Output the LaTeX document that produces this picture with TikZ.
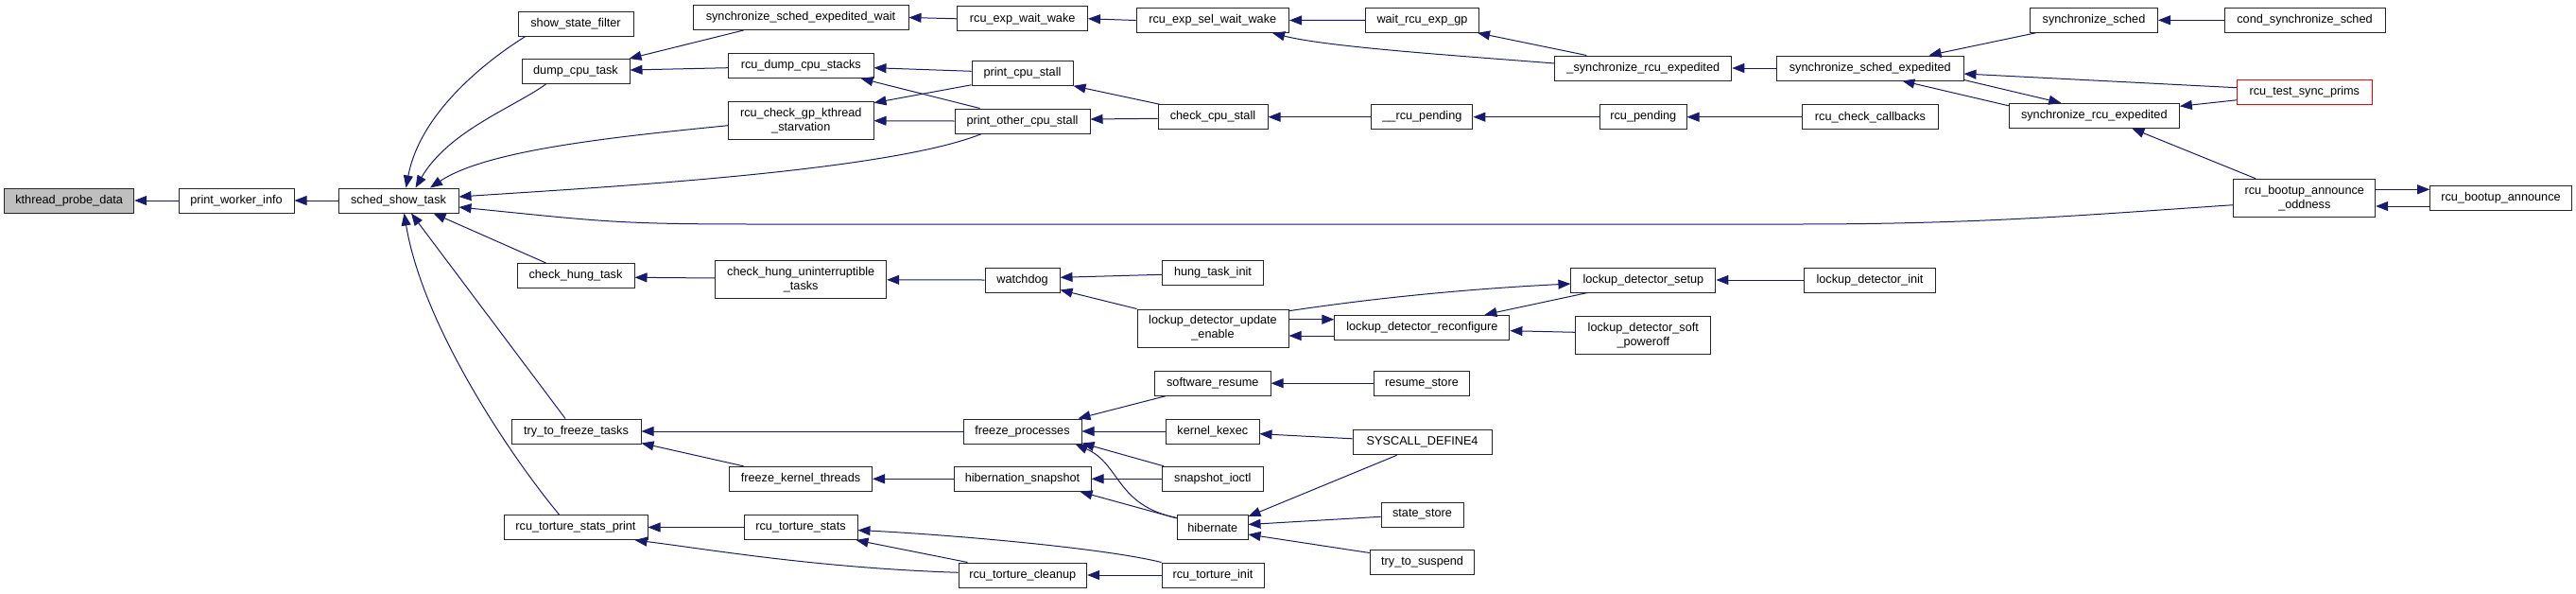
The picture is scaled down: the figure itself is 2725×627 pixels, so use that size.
\documentclass[tikz,border=0pt]{standalone}
\usepackage{fontspec}
\setmainfont{Liberation Sans}
\usetikzlibrary{arrows.meta,calc}
\definecolor{mb}{HTML}{191970}
\definecolor{rootfill}{HTML}{BFBFBF}
\newcommand\dxfont{\fontsize{12.7pt}{15pt}\selectfont}
\tikzset{
 box/.style={draw=black!85, line width=1pt, fill=white, inner sep=0pt, minimum height=26pt, align=center, font=\dxfont},
 tall/.style={minimum height=40pt},
 root/.style={fill=rootfill},
 ed/.style={draw=mb, line width=1pt, arrows={Triangle[length=13pt,width=10pt,fill=mb]-}},
}
\begin{document}
\begin{tikzpicture}[x=1pt,y=-1pt]
\useasboundingbox (0,0) rectangle (2725,627);
% nodes
\node[box,root,minimum width=137pt] (kpd) at (73.2,212) {kthread\_probe\_data};
\node[box,minimum width=122pt] (pwi) at (250,212) {print\_worker\_info};
\node[box,minimum width=127pt] (sst) at (421.5,212) {sched\_show\_task};
\node[box,minimum width=122pt] (ssf) at (609,25.2) {show\_state\_filter};
\node[box,minimum width=114pt] (dct) at (609,75.5) {dump\_cpu\_task};
\node[box,minimum width=124pt] (cht) at (609,291.5) {check\_hung\_task};
\node[box,minimum width=137pt] (ttft) at (609.5,456) {try\_to\_freeze\_tasks};
\node[box,minimum width=152pt] (rtsp) at (609,557.5) {rcu\_torture\_stats\_print};
\node[box,minimum width=228pt] (ssew) at (847,18.5) {synchronize\_sched\_expedited\_wait};
\node[box,minimum width=153.4pt] (rdcs) at (847.3,69.4) {rcu\_dump\_cpu\_stacks};
\node[box,tall,minimum width=153.4pt] (rcgks) at (847.3,127.7) {rcu\_check\_gp\_kthread\\\_starvation};
\node[box,tall,minimum width=181pt] (chut) at (847.2,295.8) {check\_hung\_uninterruptible\\\_tasks};
\node[box,minimum width=151pt] (fkt) at (847,506.3) {freeze\_kernel\_threads};
\node[box,minimum width=120pt] (rts) at (847,557.5) {rcu\_torture\_stats};
\node[box,minimum width=137.5pt] (rerw) at (1081.7,19.8) {rcu\_exp\_wait\_wake};
\node[box,minimum width=107pt] (pcs) at (1081.5,77.3) {print\_cpu\_stall};
\node[box,minimum width=143pt] (pocs) at (1081.5,128) {print\_other\_cpu\_stall};
\node[box,minimum width=79pt] (wd) at (1081.5,296) {watchdog};
\node[box,minimum width=125pt] (fp) at (1081.5,456) {freeze\_processes};
\node[box,minimum width=145pt] (hs) at (1081.5,506.3) {hibernation\_snapshot};
\node[box,minimum width=135.6pt] (rtc) at (1081.8,608) {rcu\_torture\_cleanup};
\node[box,minimum width=161.5pt] (resww) at (1282.8,21.5) {rcu\_exp\_sel\_wait\_wake};
\node[box,minimum width=116pt] (ccs) at (1283,123.7) {check\_cpu\_stall};
\node[box,minimum width=107pt] (hti) at (1283,288) {hung\_task\_init};
\node[box,tall,minimum width=160pt] (ldue) at (1283,347) {lockup\_detector\_update\\\_enable};
\node[box,minimum width=122.5pt] (sr) at (1282.8,405.2) {software\_resume};
\node[box,minimum width=98.4pt] (kk) at (1282.8,456) {kernel\_kexec};
\node[box,minimum width=106.4pt] (si) at (1282.8,506.3) {snapshot\_ioctl};
\node[box,minimum width=74.4pt] (hib) at (1282.8,557.5) {hibernate};
\node[box,minimum width=108pt] (rti) at (1283,608) {rcu\_torture\_init};
\node[box,minimum width=120pt] (wreg) at (1504.5,21.3) {wait\_rcu\_exp\_gp};
\node[box,minimum width=107pt] (rp2) at (1504.4,123.7) {\_\_rcu\_pending};
\node[box,minimum width=185pt] (ldr) at (1504.4,346.3) {lockup\_detector\_reconfigure};
\node[box,minimum width=101.7pt] (rs) at (1504,405.2) {resume\_store};
\node[box,minimum width=147pt] (sd4) at (1504.6,467.8) {SYSCALL\_DEFINE4};
\node[box,minimum width=87pt] (sts) at (1504.5,544) {state\_store};
\node[box,minimum width=110.7pt] (tts) at (1504.6,594.7) {try\_to\_suspend};
\node[box,minimum width=187pt] (srex) at (1738.3,72) {\_synchronize\_rcu\_expedited};
\node[box,minimum width=91.4pt] (rpend) at (1738.3,123.7) {rcu\_pending};
\node[box,minimum width=153pt] (lds) at (1738.4,296) {lockup\_detector\_setup};
\node[box,tall,minimum width=143.3pt] (ldsp) at (1738.3,354.7) {lockup\_detector\_soft\\\_poweroff};
\node[box,minimum width=197.4pt] (sse) at (1978.3,72) {synchronize\_sched\_expedited};
\node[box,minimum width=144pt] (rcc) at (1978.5,123.7) {rcu\_check\_callbacks};
\node[box,minimum width=139pt] (ldi) at (1978,296) {lockup\_detector\_init};
\node[box,minimum width=135pt] (ss2) at (2215,21.3) {synchronize\_sched};
\node[box,minimum width=180pt] (sre) at (2215.3,122.3) {synchronize\_rcu\_expedited};
\node[box,minimum width=170pt] (css) at (2438,21.3) {cond\_synchronize\_sched};
\node[box,draw=red,minimum width=143pt] (rtsp2) at (2437.8,97.3) {rcu\_test\_sync\_prims};
\node[box,tall,minimum width=149.7pt] (rbao) at (2437.8,209.3) {rcu\_bootup\_announce\\\_oddness};
\node[box,minimum width=149.6pt] (rba) at (2645.5,209.3) {rcu\_bootup\_announce};
\coordinate (w1) at (800,237);
\coordinate (w2) at (1900,237);
% edges
\draw[ed] (kpd.east) -- (pwi.west);
\draw[ed] (pwi.east) -- (sst.west);
\draw[ed] ($(sst.north)+(8,0)$) .. controls +(15,-80) and +(-40,25) .. ($(ssf.south west)+(8,0)$);
\draw[ed] ($(sst.north)+(18,0)$) .. controls +(35,-60) and +(-35,25) .. ($(dct.south west)+(26,0)$);
\draw[ed] ($(sst.north)+(33.5,0)$) .. controls +(60,-40) and +(-120,12) .. ($(rcgks.west)+(0,5)$);
\draw[ed] ($(sst.east)+(0,-4)$) .. controls +(150,-10) and +(-100,40) .. ($(pocs.south west)+(29,0)$);
\draw[ed] ($(sst.east)+(0,7)$) .. controls +(150,15) and +(-150,0) .. (w1) -- (w2) .. controls +(200,0) and +(-150,10) .. ($(rbao.west)+(0,7.4)$);
\draw[ed] ($(sst.south east)+(-27,0)$) -- ($(cht.north west)+(31,0)$);
\draw[ed] ($(sst.south)+(13.5,0)$) -- ($(ttft.north)+(-11.5,0)$);
\draw[ed] ($(sst.south)+(6,0)$) .. controls +(20,120) and +(-50,-60) .. ($(rtsp.north)+(-17.5,0)$);
\draw[ed] ($(dct.north east)+(-1,0)$) -- ($(ssew.south west)+(54,0)$);
\draw[ed] ($(dct.east)+(0,-1.5)$) -- ($(rdcs.west)+(0,2.3)$);
\draw[ed] (ssew.east) -- (rerw.west);
\draw[ed] (rerw.east) -- (resww.west);
\draw[ed] (resww.east) -- (wreg.west);
\draw[ed] ($(resww.south east)+(-18,0)$) .. controls +(60,15) and +(-100,-8) .. ($(srex.west)+(0,-5)$);
\draw[ed] ($(wreg.south east)+(-2,0)$) -- ($(srex.north west)+(34,0)$);
\draw[ed] (srex.east) -- (sse.west);
\draw[ed] ($(sse.north east)+(-37,0)$) -- ($(ss2.south west)+(6.5,0)$);
\draw[ed] (ss2.east) -- (css.west);
\draw[ed] ($(sse.east)+(0,6)$) -- ($(rtsp2.west)+(0,-4.6)$);
\draw[ed] ($(sre.north)+(-35,0)$) -- ($(sse.south east)+(0,-1)$);
\draw[ed] ($(sse.south)+(34,0)$) -- ($(sre.west)+(0,-10.5)$);
\draw[ed] ($(sre.east)+(0,-10)$) -- ($(rtsp2.west)+(0,8.5)$);
\draw[ed] ($(sre.south)+(40,0)$) -- ($(rbao.north west)+(23.7,0)$);
\draw[ed] ($(rba.west)+(0,-9)$) -- ($(rbao.east)+(0,-9)$);
\draw[ed] ($(rbao.east)+(0,8.7)$) -- ($(rba.west)+(0,8.7)$);
\draw[ed] ($(rdcs.east)+(0,2.3)$) -- ($(pcs.west)+(0,-2)$);
\draw[ed] ($(rdcs.south east)+(-14,0)$) -- ($(pocs.north west)+(27,0)$);
\draw[ed] ($(rcgks.north east)+(0,1.5)$) -- ($(pcs.south west)+(0,-1)$);
\draw[ed] (rcgks.east) -- (pocs.west);
\draw[ed] (pcs.south east) -- ($(ccs.north west)+(2,0)$);
\draw[ed] ($(pocs.east)+(0,-2)$) -- ($(ccs.west)+(0,1.6)$);
\draw[ed] (ccs.east) -- (rp2.west);
\draw[ed] (rp2.east) -- (rpend.west);
\draw[ed] (rpend.east) -- (rcc.west);
\draw[ed] ($(cht.east)+(0,1.8)$) -- ($(chut.west)+(0,-1.8)$);
\draw[ed] (chut.east) -- (wd.west);
\draw[ed] ($(wd.east)+(0,-2.7)$) -- ($(hti.west)+(0,2.3)$);
\draw[ed] ($(wd.south east)+(0,-3)$) -- (ldue.north west);
\draw[ed] ($(lds.west)+(0,4)$) .. controls +(-100,5) and +(100,-15) .. ($(ldue.east)+(0,-18.3)$);
\draw[ed] ($(ldr.west)+(0,-8.6)$) -- ($(ldue.east)+(0,-9.3)$);
\draw[ed] ($(ldue.east)+(0,8)$) -- ($(ldr.west)+(0,8.7)$);
\draw[ed] ($(ldr.north east)+(-27,0)$) -- ($(lds.south)+(-59,0)$);
\draw[ed] ($(ldr.east)+(0,3.4)$) -- ($(ldsp.west)+(0,-3.4)$);
\draw[ed] (lds.east) -- (ldi.west);
\draw[ed] (ttft.east) -- (fp.west);
\draw[ed] ($(ttft.south east)+(0,-1)$) -- ($(fkt.north west)+(15.5,0)$);
\draw[ed] (fkt.east) -- (hs.west);
\draw[ed] ($(fp.north east)+(-4,0)$) -- ($(sr.south west)+(12,0)$);
\draw[ed] (fp.east) -- (kk.west);
\draw[ed] ($(fp.south east)+(0,-1)$) -- ($(si.north west)+(2,0)$);
\draw[ed] ($(fp.south east)+(-7,0)$) .. controls +(48,21) and +(-65,-13) .. ($(hib.west)+(0,-10)$);
\draw[ed] (hs.east) -- (si.west);
\draw[ed] ($(hs.south east)+(-12,0)$) -- ($(hib.north west)+(0,4)$);
\draw[ed] (sr.east) -- (rs.west);
\draw[ed] ($(kk.east)+(0,2.7)$) -- ($(sd4.west)+(0,-4)$);
\draw[ed] ($(hib.north east)+(0,2)$) -- ($(sd4.south west)+(47,0)$);
\draw[ed] ($(hib.east)+(0,-3)$) -- ($(sts.west)+(0,2.3)$);
\draw[ed] ($(hib.east)+(0,7.5)$) -- ($(tts.north west)+(0,3.3)$);
\draw[ed] (rtsp.east) -- (rts.west);
\draw[ed] ($(rtsp.south east)+(-14,0)$) .. controls +(80,10) and +(-150,-5) .. ($(rtc.west)+(0,-2.7)$);
\draw[ed] ($(rts.south east)+(-2,0)$) -- ($(rtc.north west)+(10,0)$);
\draw[ed] ($(rts.east)+(0,3)$) .. controls +(100,5) and +(-60,-15) .. (rti.north west);
\draw[ed] (rtc.east) -- (rti.west);
\end{tikzpicture}
\end{document}
